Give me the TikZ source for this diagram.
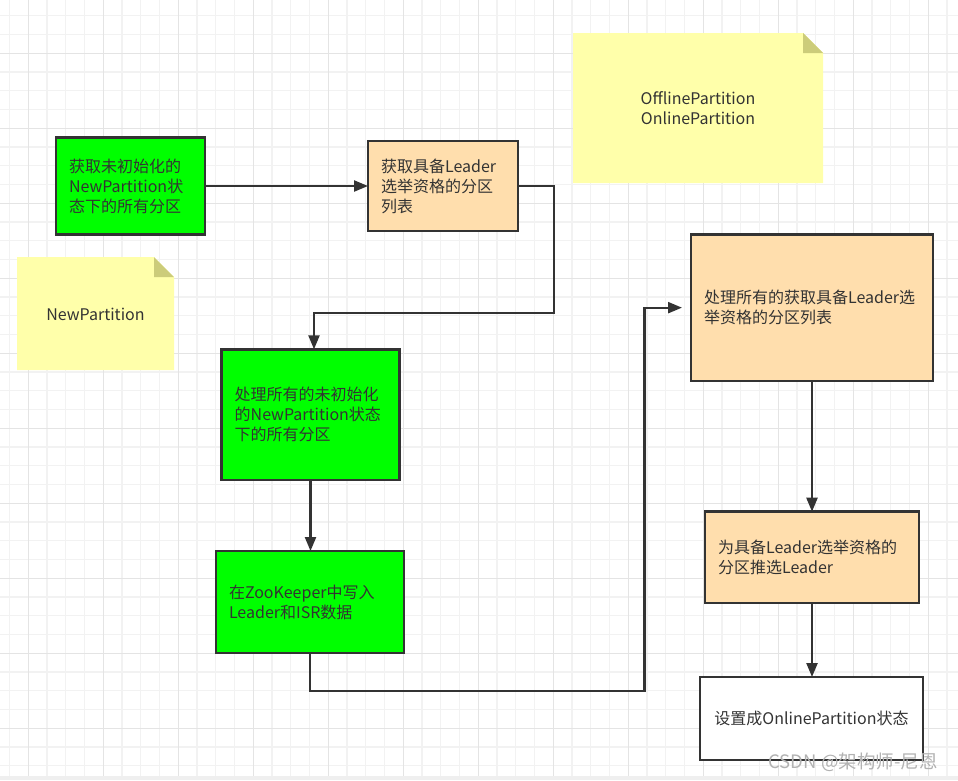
\documentclass[tikz,border=0pt]{standalone}
\usepackage{fontspec}
\setmainfont{Noto Sans CJK SC}
\usetikzlibrary{arrows.meta}
\definecolor{ink}{HTML}{333333}
\definecolor{gminor}{HTML}{F2F2F2}
\definecolor{gmajor}{HTML}{E4E4E4}
\definecolor{notefill}{HTML}{FFFFAA}
\definecolor{foldfill}{HTML}{CCCC7A}
\definecolor{boxgreen}{HTML}{00FF00}
\definecolor{peach}{HTML}{FFDEAD}
\definecolor{strip}{HTML}{EFEFEF}
\tikzset{
  minorline/.style={draw=gminor, line width=1.3pt},
  majorline/.style={draw=gmajor, line width=1.3pt},
  box/.style={draw=ink, line width=2.5pt, anchor=north west, outer sep=0pt,
    inner xsep=13pt, inner ysep=0pt, align=left, text=ink,
    font=\fontsize{16pt}{20pt}\selectfont},
  notetxt/.style={text=ink, align=center, font=\fontsize{16pt}{20pt}\selectfont},
  conn/.style={draw=ink, line width=2.3pt, -{Triangle[length=14pt,width=11pt]}},
}
\begin{document}
\begin{tikzpicture}[x=1pt,y=-1pt]
\useasboundingbox (0,0) rectangle (958,780);
\fill[white] (0,0) rectangle (958,780);
% grid
\foreach \k in {0,...,50} { \draw[minorline] ({9.583+\k*18.75},0) -- ({9.583+\k*18.75},776); }
\foreach \k in {0,...,40} { \draw[minorline] (0,{15.833+\k*18.75}) -- (958,{15.833+\k*18.75}); }
\foreach \k in {0,...,12} { \draw[majorline] ({28.333+\k*75},0) -- ({28.333+\k*75},776); }
\foreach \k in {0,...,9} { \draw[majorline] (0,{53.333+\k*75}) -- (958,{53.333+\k*75}); }
\fill[strip] (0,776) rectangle (958,780);

% notes
\fill[notefill] (573,33) -- (803,33) -- (823,53) -- (823,183) -- (573,183) -- cycle;
\fill[foldfill] (803,33) -- (803,53) -- (823,53) -- cycle;
\node[notetxt] (n1) at (698,108) {OfflinePartition\\OnlinePartition};

\fill[notefill] (17,257) -- (154,257) -- (174,277) -- (174,370) -- (17,370) -- cycle;
\fill[foldfill] (154,257) -- (154,277) -- (174,277) -- cycle;
\node[notetxt] (n2) at (95.5,314) {NewPartition};

% boxes
\node[box, fill=boxgreen, minimum width=149pt, minimum height=96.6pt, text width=123pt] (a) at (56,137.7)
  {获取未初始化的\\NewPartition状\\态下的所有分区};
\node[box, fill=peach, minimum width=150pt, minimum height=90pt, text width=124pt] (b) at (368,141)
  {获取具备Leader\\选举资格的分区\\列表};
\node[box, fill=boxgreen, minimum width=177.6pt, minimum height=130.7pt, text width=151.6pt] (c) at (221.7,349.3)
  {处理所有的未初始化\\的NewPartition状态\\下的所有分区};
\node[box, fill=boxgreen, minimum width=188pt, minimum height=102pt, text width=162pt] (d) at (216,551)
  {在ZooKeeper中写入\\Leader和ISR数据};
\node[box, fill=peach, minimum width=242pt, minimum height=146.7pt, text width=216pt] (e) at (691,234.3)
  {处理所有的获取具备Leader选\\举资格的分区列表};
\node[box, fill=peach, minimum width=214pt, minimum height=91.3pt, text width=188pt] (f) at (705,511.7)
  {为具备Leader选举资格的\\分区推选Leader};
\node[box, fill=white, align=center, minimum width=223pt, minimum height=83pt, text width=197pt] (g) at (700,677)
  {设置成OnlinePartition状态};

% connectors
\draw[conn] (a.east) -- (b.west);
\draw[conn] (b.east) -| (554,312.7) -| ([xshift=3.5pt]c.north);
\draw[conn] (c.south) -- (c.south |- d.north);
\draw[conn, shorten >=9pt] (d.south) |- (644.5,691) |- (e.west);
\draw[conn] (e.south) -- (f.north);
\draw[conn] (f.south) -- (f.south |- g.north);

% watermark
\node[text=black!30, font=\fontsize{18.5pt}{18.5pt}\selectfont] (wm) at (853,762) {CSDN @架构师-尼恩};
\end{tikzpicture}
\end{document}
